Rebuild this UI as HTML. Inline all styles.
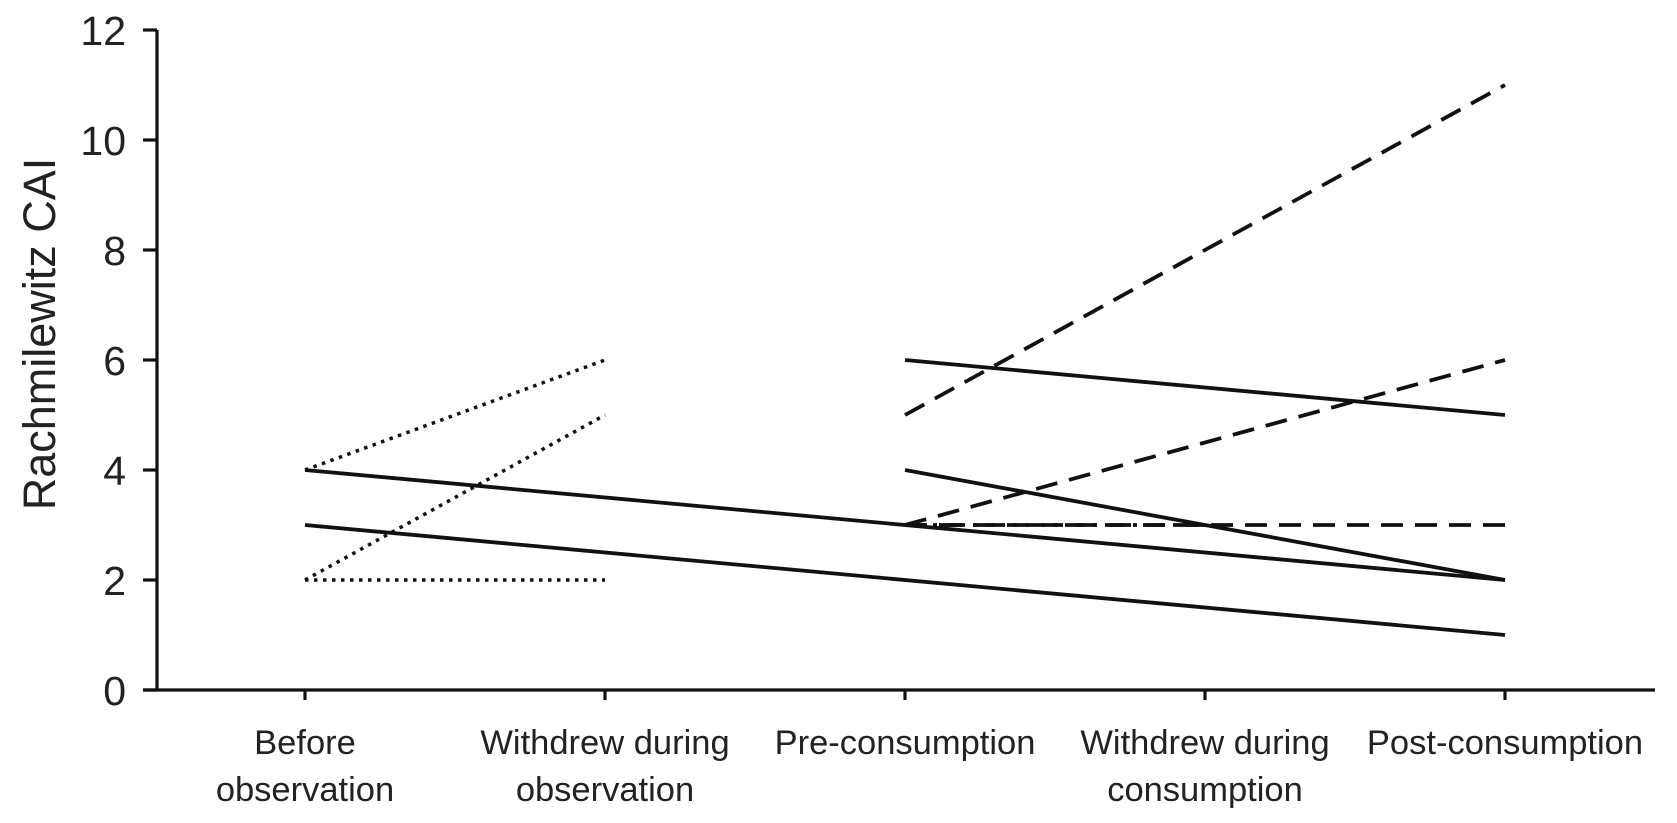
<!DOCTYPE html>
<html><head><meta charset="utf-8"><style>
html,body{margin:0;padding:0;background:#fff;}
svg{display:block;font-family:"Liberation Sans","DejaVu Sans",sans-serif;}
</style></head><body>
<svg id="chart" width="1677" height="823" viewBox="0 0 1677 823">
<g id="marks"></g>
<g id="axes"></g>
</svg>
<script>
const categories = ["Before|observation","Withdrew during|observation","Pre-consumption","Withdrew during|consumption","Post-consumption"];
const yTicks = [0,2,4,6,8,10,12];
// each series: [startCategoryIndex, startValue, endCategoryIndex, endValue]
const dottedSeries = [[0,4,1,6],[0,2,1,5],[0,2,1,2]];
const solidSeries = [[0,4,4,2],[0,3,4,1],[2,6,4,5],[2,4,4,2]];
const dashedSeries = [[2,5,4,11],[2,3,4,6],[2,3,4,3]];
const dashDotSeries = [[2,3,3,3]];

const NS="http://www.w3.org/2000/svg";
const x0=305, dx=300, yBase=690, yUnit=55;
function xs(i){return x0+i*dx;}
function ys(v){return yBase-v*yUnit;}
const marks=document.getElementById('marks'), axes=document.getElementById('axes');
function mk(tag,attrs,parent){const e=document.createElementNS(NS,tag);for(const k in attrs)e.setAttribute(k,attrs[k]);parent.appendChild(e);return e;}

function drawSet(set,dash,name,w){
  set.forEach((s,i)=>{
    const l=mk('line',{x1:xs(s[0]),y1:ys(s[1]),x2:xs(s[2]),y2:ys(s[3]),stroke:'#111','stroke-width':w,'stroke-dasharray':dash},marks);
    
    
  });
}
drawSet(dottedSeries,'3.5 5.5','dotted-line',3.5);
drawSet(solidSeries,'none','solid-line',3.8);
drawSet(dashedSeries,'22 12','dashed-line',3.8);
drawSet(dashDotSeries,'20 8 4 8','dash-dot-line',3.8);

const yax=mk('line',{x1:157,y1:ys(12),x2:157,y2:yBase,stroke:'#111','stroke-width':3.2},axes);


const xax=mk('line',{x1:143,y1:yBase,x2:1655,y2:yBase,stroke:'#111','stroke-width':3.2},axes);


yTicks.forEach(v=>{
  const t=mk('line',{x1:143,y1:ys(v),x2:157,y2:ys(v),stroke:'#111','stroke-width':3.2},axes);
  
  
  const tx=mk('text',{x:126,y:ys(v)+15,'text-anchor':'end','font-size':41,fill:'#222'},axes);
  tx.textContent=v;
  
  
});
categories.forEach((c,i)=>{
  const t=mk('line',{x1:xs(i),y1:yBase,x2:xs(i),y2:yBase+10,stroke:'#111','stroke-width':3.2},axes);
  
  
  const tx=mk('text',{x:xs(i),'text-anchor':'middle','font-size':34.5,fill:'#222'},axes);
  
  
  c.split('|').forEach((part,j)=>{
    const sp=mk('tspan',{x:xs(i),y:754+j*47},tx);
    sp.textContent=part;
  });
});
const yt=mk('text',{x:0,y:0,'text-anchor':'middle','font-size':45,fill:'#222',transform:'translate(55,334) rotate(-90)'},axes);
yt.textContent='Rachmilewitz CAI';


</script>
</body></html>
